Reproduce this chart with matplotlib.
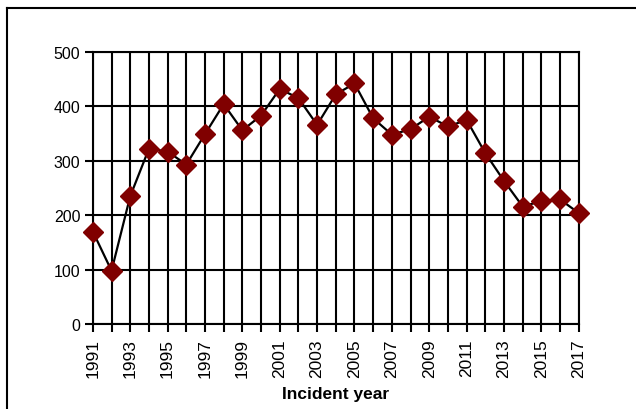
import matplotlib.pyplot as plt
from matplotlib.lines import Line2D

years = list(range(1991, 2018))
incidents = [170, 98, 235, 322, 317, 293, 349, 404, 356, 383, 432, 415, 366,
             422, 442, 378, 348, 358, 381, 363, 375, 314, 263, 216, 226, 229, 204]

plt.rcParams["font.family"] = ["Liberation Sans", "DejaVu Sans"]

fig = plt.figure(figsize=(6.36, 4.10), dpi=100)
ax = fig.add_axes([0.146, 0.207, 0.764, 0.664])

ax.plot(years, incidents, color="black", linewidth=1.6, marker="D",
        markersize=10, markerfacecolor="#800000", markeredgecolor="#800000",
        zorder=3, clip_on=False)

ax.set_xlim(1991, 2017)
ax.set_ylim(0, 500)
ax.set_yticks(range(0, 501, 100))
ax.set_xticks(years)
ax.set_xticklabels([str(y) if y % 2 == 1 else "" for y in years], rotation=90)
ax.grid(True, color="black", linewidth=1.5)
ax.set_axisbelow(True)
for s in ax.spines.values():
    s.set_linewidth(1.5)
ax.tick_params(axis="both", width=1.5, length=6)
ax.tick_params(axis="x", labelsize=12.5, pad=4)
ax.tick_params(axis="y", labelsize=11.5, pad=3)
ax.set_xlabel("Incident year", fontsize=12.5, fontweight="bold")
ax.xaxis.set_label_coords(0.5, -0.228)

# outer frame: only top and left edges fall inside the image
fx = 7 / 636
fy = 1 - 9 / 410
fig.add_artist(Line2D([fx, 1.01], [fy, fy], transform=fig.transFigure,
                      color="black", linewidth=1.5))
fig.add_artist(Line2D([fx, fx], [-0.01, fy], transform=fig.transFigure,
                      color="black", linewidth=1.5))

fig.savefig("out.png", dpi=100)
